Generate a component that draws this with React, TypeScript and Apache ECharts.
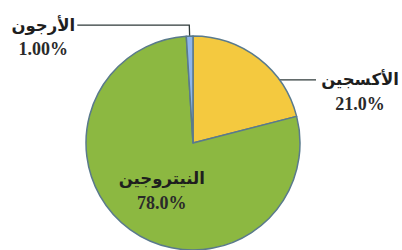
import React, { useEffect, useRef } from "react";
import * as echarts from "echarts";

const names = ["الأكسجين", "النيتروجين", "الأرجون"];
const values = [21, 78, 1];
const pctLabels = ["21.0%", "78.0%", "1.00%"];
const colors = ["#f4c93f", "#8cb841", "#8fb6ec"];

export default function App() {
  const ref = useRef<HTMLDivElement>(null);
  useEffect(() => {
    if (!ref.current) return;
    const chart = echarts.init(ref.current, null, { renderer: "svg" });
    const richFor = (w: number) => ({
      n: {
        fontFamily: "DejaVu Sans",
        fontWeight: "bold",
        fontSize: 16.5,
        color: "#1e1e1e",
        lineHeight: 24,
        width: w,
        align: "center",
      },
      p: {
        fontFamily: "Liberation Serif",
        fontWeight: "bold",
        fontSize: 18,
        color: "#2a2a2a",
        lineHeight: 24,
        width: w,
        align: "center",
      },
    });
    const data = names.map((name, i) => {
      const item: any = {
        name,
        value: values[i],
        itemStyle: { color: colors[i] },
      };
      if (i === 0) {
        item.label = {
          position: "outside",
          padding: [24, 0, 0, 0],
          rich: richFor(82),
        };
        item.labelLine = {
          show: true,
          length: -27,
          length2: 74,
          minTurnAngle: 0,
          maxSurfaceAngle: 180,
        };
      } else if (i === 1) {
        item.label = { position: "inside", rich: richFor(100) };
        item.labelLine = { show: false };
      } else {
        item.label = {
          position: "outside",
          padding: [24, 0, 0, 0],
          rich: richFor(62),
        };
        item.labelLine = { show: true, length: 11, length2: 112 };
      }
      return item;
    });
    chart.setOption({
      animation: false,
      backgroundColor: "#ffffff",
      series: [
        {
          type: "pie",
          center: [193, 143],
          radius: 107,
          startAngle: 90,
          clockwise: true,
          avoidLabelOverlap: false,
          data,
          itemStyle: { borderColor: "#5a7a8c", borderWidth: 1.5 },
          label: {
            show: true,
            bleedMargin: 0,
            distanceToLabelLine: 3,
            overflow: "none",
            formatter: (p: any) => `{n|${p.name}}\n{p|${pctLabels[p.dataIndex]}}`,
          },
          labelLine: {
            lineStyle: { color: "#2f3a3a", width: 1.3 },
          },
          labelLayout: (params: any) => {
            if (params.dataIndex === 0 && params.labelLinePoints) {
              return { labelLinePoints: params.labelLinePoints.slice(1) };
            }
            if (params.dataIndex === 1) {
              return { dx: 2, dy: 2 };
            }
            return {};
          },
          emphasis: { disabled: true },
        },
      ],
    });
    return () => chart.dispose();
  }, []);
  return (
    <div
      ref={ref}
      style={{ position: "fixed", left: 0, top: 0, width: 402, height: 250 }}
    />
  );
}
